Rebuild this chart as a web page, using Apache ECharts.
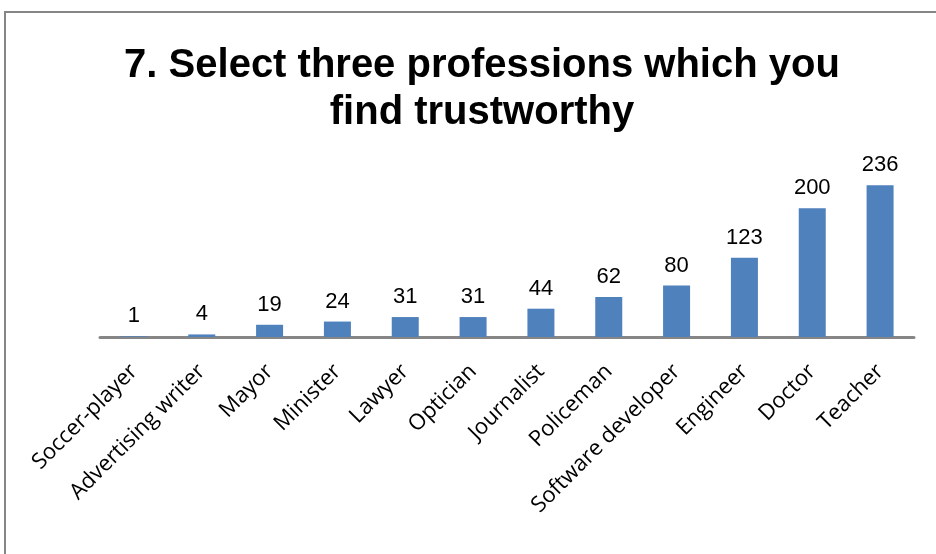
<!DOCTYPE html>
<html><head><meta charset="utf-8">
<script src="https://cdn.jsdelivr.net/npm/echarts@6/dist/echarts.min.js"></script>
<style>html,body{margin:0;padding:0;background:#fff}#c{width:936px;height:554px}</style>
</head><body><div id="c"></div>
<script>
const titleText = "7. Select three professions which you\nfind trustworthy";
const categories = ["Soccer-player","Advertising writer","Mayor","Minister","Lawyer","Optician","Journalist","Policeman","Software developer","Engineer","Doctor","Teacher"];
const values = [1,4,19,24,31,31,44,62,80,123,200,236];

const chart = echarts.init(document.getElementById('c'), null, {renderer:'canvas'});
chart.setOption({
  animation:false,
  backgroundColor:'#ffffff',
  title:{
    text:titleText,
    left:477, textAlign:'center', top:37,
    textStyle:{fontFamily:"'Liberation Sans',Arial,sans-serif",fontWeight:'bold',fontSize:40,lineHeight:47,color:'#000'}
  },
  graphic:[{type:'rect',shape:{x:5,y:12,width:1000,height:1000},style:{fill:'none',stroke:'#868686',lineWidth:2},silent:true}],
  grid:{left:100,right:22,top:144,bottom:217},
  xAxis:{type:'category',data:categories,
    axisLine:{lineStyle:{color:'#868686',width:3}},
    axisTick:{show:false},
    axisLabel:{rotate:45,interval:0,margin:31,color:'#000',fontFamily:"'Open Sans',sans-serif",fontSize:22}
  },
  yAxis:{type:'value',min:0,max:300,show:false,splitLine:{show:false}},
  series:[{type:'bar',data:values,barWidth:27,
    itemStyle:{color:'#4F81BD'},
    label:{show:true,position:'top',distance:9,color:'#000',fontFamily:"'Liberation Sans',Arial,sans-serif",fontSize:22}
  }]
});
</script></body></html>
